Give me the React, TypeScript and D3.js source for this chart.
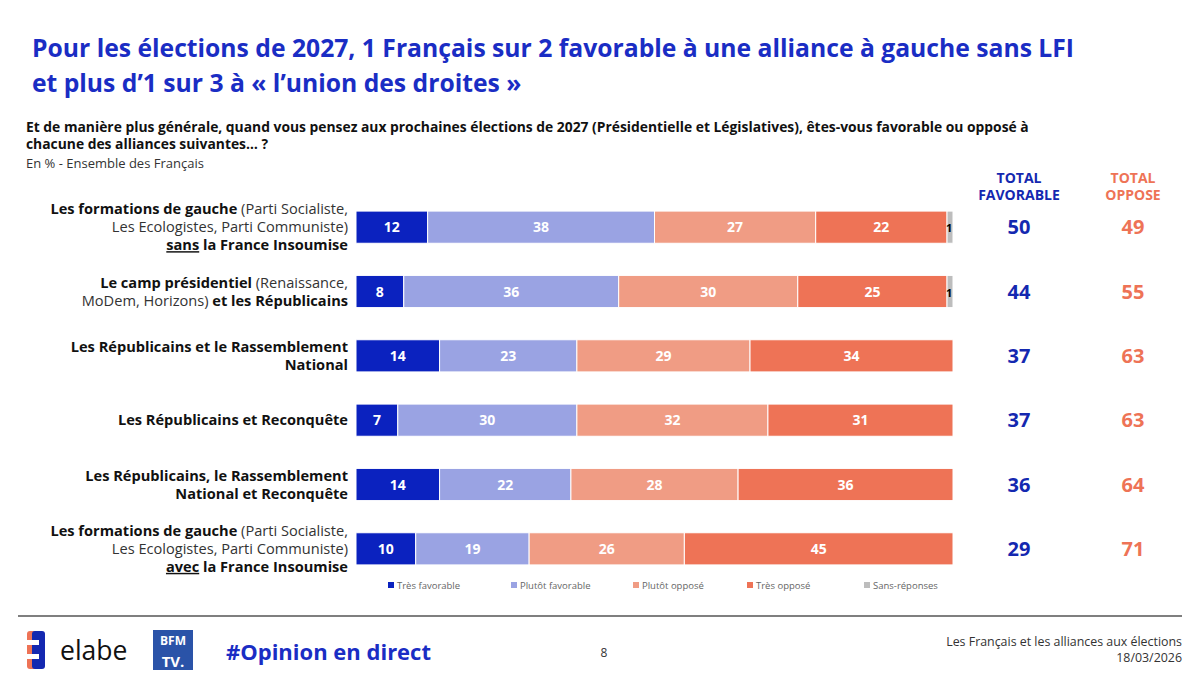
import React from "react";
import * as d3 from "d3";

const categories = [
  "gauche sans LFI",
  "camp présidentiel + LR",
  "LR + RN",
  "LR + Reconquête",
  "LR + RN + Reconquête",
  "gauche avec LFI",
];
const tresFavorable = [12, 8, 14, 7, 14, 10];
const plutotFavorable = [38, 36, 23, 30, 22, 19];
const plutotOppose = [27, 30, 29, 32, 28, 26];
const tresOppose = [22, 25, 34, 31, 36, 45];
const sansReponses = [1, 1, 0, 0, 0, 0];
const totalFavorable = [50, 44, 37, 37, 36, 29];
const totalOppose = [49, 55, 63, 63, 64, 71];

const seriesNames = ["Très favorable", "Plutôt favorable", "Plutôt opposé", "Très opposé", "Sans-réponses"];
const seriesColors = ["#0B22BF", "#9AA3E3", "#F09C84", "#EE7356", "#BDBDBD"];

type Seg = [string, boolean, boolean?];
const labelLines: Seg[][][] = [
  [
    [["Les formations de gauche", true], [" (Parti Socialiste,", false]],
    [["Les Ecologistes, Parti Communiste)", false]],
    [["sans", true, true], [" la France Insoumise", true]],
  ],
  [
    [["Le camp présidentiel", true], [" (Renaissance,", false]],
    [["MoDem, Horizons)", false], [" et les Républicains", true]],
  ],
  [[["Les Républicains et le Rassemblement", true]], [["National", true]]],
  [[["Les Républicains et Reconquête", true]]],
  [[["Les Républicains, le Rassemblement", true]], [["National et Reconquête", true]]],
  [
    [["Les formations de gauche", true], [" (Parti Socialiste,", false]],
    [["Les Ecologistes, Parti Communiste)", false]],
    [["avec", true, true], [" la France Insoumise", true]],
  ],
];

const FONT = "'Open Sans', Lato, sans-serif";
const BLUE = "#1A2DC4";

export default function App() {
  const W = 1200, H = 684;
  const x = d3.scaleLinear().domain([0, 100]).range([356, 953]);
  const y = d3.scaleBand<string>().domain(categories).range([195, 581]).paddingInner(0.5).paddingOuter(0.25);
  const rows = categories.map((c, i) => ({
    c,
    s0: tresFavorable[i],
    s1: plutotFavorable[i],
    s2: plutotOppose[i],
    s3: tresOppose[i],
    s4: sansReponses[i],
  }));
  const stack = d3.stack<any>().keys(["s0", "s1", "s2", "s3", "s4"]);
  const layers = stack(rows);
  const bh = y.bandwidth();

  const legendX = [388, 511, 633, 747, 864];

  return (
    <svg width={W} height={H} style={{ position: "absolute", left: 0, top: 0, background: "#fff" }} fontFamily={FONT}>
      <rect width={W} height={H} fill="#fff" />
      <text x={32} y={57} fontSize={24.7} fontWeight={700} fill={BLUE}>
        Pour les élections de 2027, 1 Français sur 2 favorable à une alliance à gauche sans LFI
      </text>
      <text x={32} y={92} fontSize={24.7} fontWeight={700} fill={BLUE}>
        et plus d’1 sur 3 à « l’union des droites »
      </text>
      <text x={26} y={132} fontSize={13.85} fontWeight={700} fill="#111">
        Et de manière plus générale, quand vous pensez aux prochaines élections de 2027 (Présidentielle et Législatives), êtes-vous favorable ou opposé à
      </text>
      <text x={26} y={149} fontSize={13.85} fontWeight={700} fill="#111">
        chacune des alliances suivantes… ?
      </text>
      <text x={26} y={168} fontSize={13} fill="#333">
        En % - Ensemble des Français
      </text>

      <text x={1019} y={183} fontSize={14} fontWeight={700} fill="#1428B0" textAnchor="middle">TOTAL</text>
      <text x={1019} y={200} fontSize={14} fontWeight={700} fill="#1428B0" textAnchor="middle">FAVORABLE</text>
      <text x={1133} y={183} fontSize={14} fontWeight={700} fill="#EE7356" textAnchor="middle">TOTAL</text>
      <text x={1133} y={200} fontSize={14} fontWeight={700} fill="#EE7356" textAnchor="middle">OPPOSE</text>

      {layers.map((layer, li) => (
        <g key={li}>
          {layer.map((d, i) => {
            const v = d[1] - d[0];
            if (v <= 0) return null;
            const x0 = x(d[0]), x1 = x(d[1]);
            const yy = y(categories[i])!;
            return (
              <g key={i}>
                <rect x={x0} y={yy} width={x1 - x0} height={bh} fill={seriesColors[li]} stroke="#fff" strokeWidth={1} />
                <text
                  x={li === 4 ? x0 - 1 : (x0 + x1) / 2}
                  y={yy + bh / 2 + 5}
                  fontSize={li === 4 ? 11 : 14}
                  fontWeight={700}
                  fill={li === 4 ? "#000" : "#fff"}
                  textAnchor={li === 4 ? "start" : "middle"}
                >
                  {v}
                </text>
              </g>
            );
          })}
        </g>
      ))}

      {categories.map((c, i) => {
        const cy = y(c)! + bh / 2;
        const lines = labelLines[i];
        const lh = 18;
        const start = cy - ((lines.length - 1) * lh) / 2 + 5;
        return (
          <g key={c}>
            {lines.map((ln, j) => (
              <text key={j} x={348} y={start + j * lh} fontSize={14.6} textAnchor="end" fill="#111">
                {ln.map((s, k) => (
                  <tspan key={k} fontWeight={s[1] ? 700 : 400} textDecoration={s[2] ? "underline" : undefined} fill={s[1] ? "#111" : "#333"}>
                    {s[0]}
                  </tspan>
                ))}
              </text>
            ))}
            <text x={1019} y={cy + 7} fontSize={20} fontWeight={700} fill="#1428B0" textAnchor="middle">{totalFavorable[i]}</text>
            <text x={1133} y={cy + 7} fontSize={20} fontWeight={700} fill="#EE7356" textAnchor="middle">{totalOppose[i]}</text>
          </g>
        );
      })}

      {seriesNames.map((n, i) => (
        <g key={n}>
          <rect x={legendX[i]} y={582} width={6} height={6} fill={seriesColors[i]} />
          <text x={legendX[i] + 9} y={589} fontSize={9.5} fill="#666">{n}</text>
        </g>
      ))}

      <line x1={18} x2={1182} y1={616} y2={616} stroke="#555" strokeWidth={1.5} />
      <g>
        <rect x={27} y={631} width={14} height={38} rx={3} fill="#EE7356" />
        <rect x={32} y={631} width={13} height={38} rx={3} fill="#1428B0" />
        <rect x={27} y={640} width={12} height={5} fill="#fff" />
        <rect x={27} y={654} width={12} height={5} fill="#fff" />
        <text x={60} y={660} fontSize={26.5} fill="#111">elabe</text>
      </g>
      <g>
        <rect x={153} y={630} width={40} height={40} fill="#2A53A8" />
        <text x={173} y={645} fontSize={12} fontWeight={700} fill="#fff" textAnchor="middle">BFM</text>
        <text x={173} y={667} fontSize={15} fontWeight={700} fill="#fff" textAnchor="middle">TV.</text>
      </g>
      <text x={226} y={660} fontSize={22} fontWeight={700} fill={BLUE}>#Opinion en direct</text>
      <text x={604} y={657} fontSize={12} fill="#333" textAnchor="middle">8</text>
      <text x={1182} y={646} fontSize={12.4} fill="#333" textAnchor="end">Les Français et les alliances aux élections</text>
      <text x={1182} y={662} fontSize={12.4} fill="#333" textAnchor="end">18/03/2026</text>
    </svg>
  );
}
